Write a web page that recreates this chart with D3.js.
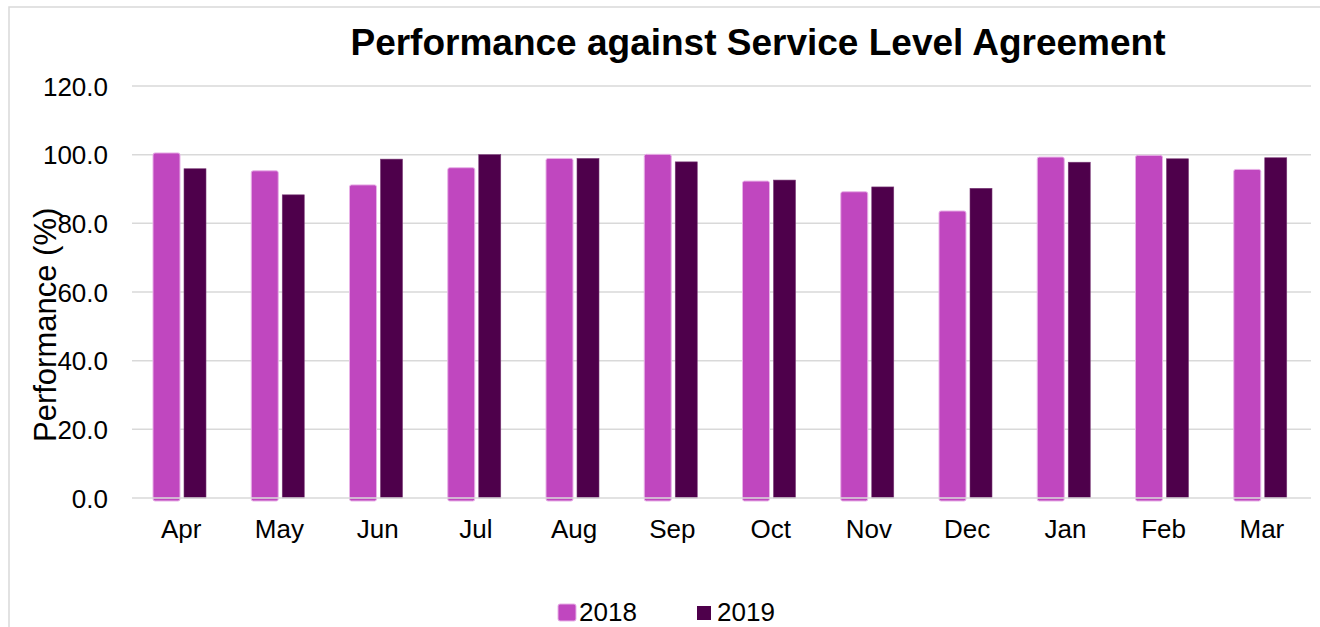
<!DOCTYPE html>
<html>
<head>
<meta charset="utf-8">
<script src="https://cdn.jsdelivr.net/npm/d3@7"></script>
<style>
  html, body { margin: 0; padding: 0; background: #ffffff; }
  svg { display: block; font-family: "Liberation Sans", Arial, sans-serif; }
</style>
</head>
<body>
<svg id="chart" width="1320" height="627"></svg>
<script>
// Monthly performance (%) for two years
const months = ["Apr", "May", "Jun", "Jul", "Aug", "Sep", "Oct", "Nov", "Dec", "Jan", "Feb", "Mar"];
const series = ["2018", "2019"];
const values2018 = [100.5, 95.3, 91.2, 96.2, 98.9, 100.1, 92.3, 89.2, 83.6, 99.3, 99.8, 95.7];
const values2019 = [95.9, 88.3, 98.7, 100.0, 98.9, 97.9, 92.6, 90.6, 90.2, 97.8, 98.8, 99.1];
const yTicks = [0, 20, 40, 60, 80, 100, 120];

const colors = { "2018": "#c047bf", "2019": "#4e004b" };

const svg = d3.select("#chart");

// Outer chart frame
svg.append("rect")
  .attr("x", 9).attr("y", 7)
  .attr("width", 1340).attr("height", 660)
  .attr("fill", "none")
  .attr("stroke", "#d9d9d9")
  .attr("stroke-width", 1.5);

const x = d3.scaleBand().domain(months).range([132, 1311]).padding(0);
const y = d3.scaleLinear().domain([0, 120]).range([498, 86]);

// Horizontal gridlines
svg.append("g")
  .selectAll("line")
  .data(yTicks.filter(t => t > 0))
  .join("line")
  .attr("x1", 132).attr("x2", 1311)
  .attr("y1", d => y(d)).attr("y2", d => y(d))
  .attr("stroke", "#d9d9d9")
  .attr("stroke-width", 1.5);

// Bars: each series sits at its own offset inside the month band
const layout = {
  "2018": { offset: 21, width: 27 },
  "2019": { offset: 52, width: 22 }
};
const rows = months.map((m, i) => ({ month: m, "2018": values2018[i], "2019": values2019[i] }));

const bars = svg.append("g");
bars.selectAll("rect.s2018")
  .data(rows)
  .join("rect")
  .attr("class", "s2018")
  .attr("x", d => x(d.month) + layout["2018"].offset)
  .attr("y", d => y(d["2018"]))
  .attr("width", layout["2018"].width)
  .attr("height", d => y(0) - y(d["2018"]) + 3)
  .attr("rx", 2)
  .attr("fill", colors["2018"])
  .attr("stroke", "#e8b2e7")
  .attr("stroke-width", 1);

bars.selectAll("rect.s2019")
  .data(rows)
  .join("rect")
  .attr("class", "s2019")
  .attr("x", d => x(d.month) + layout["2019"].offset)
  .attr("y", d => y(d["2019"]))
  .attr("width", layout["2019"].width)
  .attr("height", d => y(0) - y(d["2019"]))
  .attr("fill", colors["2019"])
  .attr("stroke", "#7a3a77")
  .attr("stroke-width", 0.6);

// Zero baseline over the bars
svg.append("line")
  .attr("x1", 132).attr("x2", 1311)
  .attr("y1", y(0)).attr("y2", y(0))
  .attr("stroke", "#d9d9d9")
  .attr("stroke-width", 1.5);

// Y axis tick labels
const yAxis = d3.axisLeft(y).tickValues(yTicks).tickFormat(d3.format(".1f")).tickSize(0).tickPadding(0);
const yG = svg.append("g").attr("transform", "translate(108,0)").call(yAxis);
yG.select(".domain").remove();
yG.selectAll("text")
  .attr("font-family", "Liberation Sans, Arial, sans-serif")
  .attr("font-size", 26)
  .attr("fill", "#000")
  .attr("dy", "0.35em");

// X axis month labels
const xAxis = d3.axisBottom(x).tickSize(0).tickPadding(0);
const xG = svg.append("g").attr("transform", "translate(0,538)").call(xAxis);
xG.select(".domain").remove();
xG.selectAll("text")
  .attr("font-family", "Liberation Sans, Arial, sans-serif")
  .attr("font-size", 26)
  .attr("fill", "#000")
  .attr("y", 0)
  .attr("dy", 0);

// Y axis title
svg.append("text")
  .attr("transform", "translate(56,442) rotate(-90)")
  .attr("text-anchor", "start")
  .attr("font-size", 31)
  .attr("fill", "#000")
  .text("Performance (%)");

// Chart title
svg.append("text")
  .attr("x", 758).attr("y", 55)
  .attr("text-anchor", "middle")
  .attr("font-size", 37)
  .attr("font-weight", "bold")
  .attr("fill", "#000")
  .text("Performance against Service Level Agreement");

// Legend
const legend = svg.append("g");
legend.append("rect")
  .attr("x", 558).attr("y", 604).attr("width", 18).attr("height", 17)
  .attr("rx", 2)
  .attr("fill", colors["2018"])
  .attr("stroke", "#e8b2e7").attr("stroke-width", 1);
legend.append("text")
  .attr("x", 579).attr("y", 621)
  .attr("font-size", 26).attr("fill", "#000")
  .text(series[0]);
legend.append("rect")
  .attr("x", 697).attr("y", 606).attr("width", 14).attr("height", 14)
  .attr("fill", colors["2019"]);
legend.append("text")
  .attr("x", 717).attr("y", 621)
  .attr("font-size", 26).attr("fill", "#000")
  .text(series[1]);
</script>
</body>
</html>
